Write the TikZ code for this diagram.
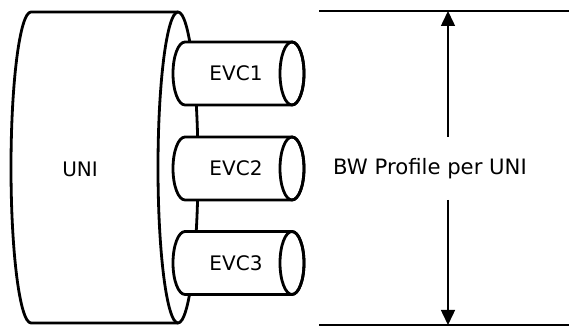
\documentclass[tikz,border=0pt]{standalone}
\usepackage{fontspec}
\setmainfont{DejaVu Sans}
\usetikzlibrary{arrows.meta}

\begin{document}
\begin{tikzpicture}[x=0.5pt,y=0.5pt,font=\fontsize{10}{12}\selectfont,
  cyl/.style={line width=1.4pt,line join=round},
  dim/.style={line width=0.75pt},
  tip/.style={-{Triangle[width=7pt,length=7.5pt]}}]
 \useasboundingbox (0,0) rectangle (569,326);
 \draw[cyl] (178,314) -- (31,314)
  arc[start angle=90,end angle=270,x radius=20,y radius=155.5] -- (178,3);
 \draw[cyl] (178,158.5) ellipse[x radius=20,y radius=155.5];
 \node (uni) at (80,157) {UNI};
 \foreach \n/\y in {1/252.5,2/157.5,3/63}
  {\filldraw[cyl,fill=white] (292,\y+31.5) -- (185,\y+31.5)
    arc[start angle=90,end angle=270,x radius=12,y radius=31.5]
    -- (292,\y-31.5)
    arc[start angle=270,end angle=450,x radius=12,y radius=31.5] -- cycle;
   \draw[cyl] (292,\y) ellipse[x radius=12,y radius=31.5];
   \node (evc\n) at (236,\y) {EVC\n};}
 \coordinate (topA) at (319,315);
 \coordinate (topB) at (569,315);
 \coordinate (botA) at (319,1);
 \coordinate (botB) at (569,1);
 \coordinate (dimTop) at (448,315);
 \coordinate (dimBot) at (448,1);
 \coordinate (upStart) at (448,189);
 \coordinate (downStart) at (448,126);
 \draw[dim] (topA) -- (topB);
 \draw[dim] (botA) -- (botB);
 \draw[dim,tip] (upStart) -- (dimTop);
 \draw[dim,tip] (downStart) -- (dimBot);
 \node[text depth=0pt,font=\fontsize{10.6}{12}\selectfont] (bw) at (430,160)
  {BW Profile per UNI};
\end{tikzpicture}
\end{document}
